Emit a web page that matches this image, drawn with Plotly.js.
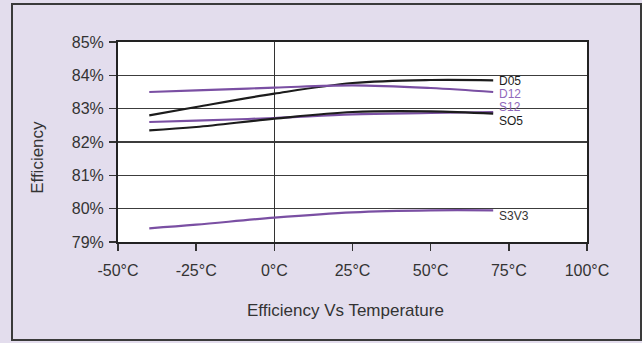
<!DOCTYPE html>
<html>
<head>
<meta charset="utf-8">
<script src="https://cdn.plot.ly/plotly-3.0.1.min.js"></script>
<style>
  html, body { margin: 0; padding: 0; background: #e3dded; }
  #wrap { position: relative; width: 642px; height: 343px; }
  #chart { position: absolute; left: 0; top: 0; width: 642px; height: 343px; }
  #frame { position: absolute; left: 11px; top: 3px; width: 627px; height: 334px;
           border: 2px solid #3a3a3a; pointer-events: none; }
</style>
</head>
<body>
<div id="wrap">
  <div id="chart"></div>
  <div id="frame"></div>
</div>
<script>
// Ambient temperature (°C) at which efficiency was measured
const temperatures = [-40, -25, 0, 25, 50, 70];

// Efficiency (%) per converter model
const effD05  = [82.80, 83.05, 83.45, 83.77, 83.86, 83.85];
const effD12  = [83.50, 83.55, 83.63, 83.70, 83.62, 83.50];
const effS12  = [82.60, 82.64, 82.72, 82.83, 82.87, 82.90];
const effS05  = [82.35, 82.45, 82.70, 82.90, 82.92, 82.85];
const effS3V3 = [79.41, 79.52, 79.73, 79.89, 79.95, 79.95];

const seriesNames = ['D05', 'D12', 'S12', 'SO5', 'S3V3'];

// Axis ticks
const xTickVals = [-50, -25, 0, 25, 50, 75, 100];
const xTickText = ['-50°C', '-25°C', '0°C', '25°C', '50°C', '75°C', '100°C'];
const yTickVals = [79, 80, 81, 82, 83, 84, 85];
const yTickText = ['79%', '80%', '81%', '82%', '83%', '84%', '85%'];

const BLACK = '#1c1c1c';
const PURPLE = '#7a4fa3';
const PURPLE_TEXT = '#9069bb';

const seriesData = [effD05, effD12, effS12, effS05, effS3V3];
const lineColors = [BLACK, PURPLE, PURPLE, BLACK, PURPLE];
const labelColors = [BLACK, PURPLE_TEXT, PURPLE_TEXT, BLACK, '#333333'];
// vertical nudge (px) of each end label relative to its line's last point
const labelShift = [-1, -2, 5, -7, -6];

const traces = seriesData.map((ys, i) => ({
  x: temperatures,
  y: ys,
  type: 'scatter',
  mode: 'lines',
  name: seriesNames[i],
  line: { color: lineColors[i], width: 2.2, shape: 'spline', smoothing: 1 },
  hoverinfo: 'skip'
}));

const FONT = 'Arial, "Liberation Sans", sans-serif';

const endLabels = seriesData.map((ys, i) => ({
  x: temperatures[temperatures.length - 1],
  y: ys[ys.length - 1],
  xref: 'x', yref: 'y',
  text: seriesNames[i],
  showarrow: false,
  xanchor: 'left',
  xshift: 5,
  yshift: labelShift[i],
  borderpad: 0,
  font: { family: FONT, size: 12, color: labelColors[i] }
}));

const layout = {
  width: 642,
  height: 343,
  margin: { l: 118, r: 55, t: 42, b: 101 },
  paper_bgcolor: '#e3dded',
  plot_bgcolor: '#ffffff',
  showlegend: false,
  font: { family: FONT, size: 16, color: '#333333' },
  xaxis: {
    range: [-50, 100],
    tickvals: xTickVals,
    ticktext: xTickText,
    ticks: 'outside',
    ticklen: 7,
    tickwidth: 1.5,
    tickcolor: '#333333',
    showgrid: false,
    zeroline: true,
    zerolinecolor: '#333333',
    zerolinewidth: 1,
    showline: true,
    linecolor: '#222222',
    linewidth: 2,
    mirror: true,
    ticklabelstandoff: 6,
    tickfont: { family: FONT, size: 16, color: '#333333' }
  },
  yaxis: {
    range: [79, 85],
    tickvals: yTickVals,
    ticktext: yTickText,
    ticks: 'outside',
    ticklen: 7,
    tickwidth: 1.5,
    tickcolor: '#333333',
    showgrid: true,
    gridcolor: '#3c3c3c',
    gridwidth: 1.2,
    zeroline: false,
    showline: true,
    linecolor: '#222222',
    linewidth: 2,
    mirror: true,
    ticklabelstandoff: 2,
    tickfont: { family: FONT, size: 16, color: '#333333' }
  },
  annotations: endLabels.concat([
    {
      x: 0.486, y: -0.34, xref: 'paper', yref: 'paper',
      text: 'Efficiency Vs Temperature', showarrow: false,
      xanchor: 'center', yanchor: 'middle',
      font: { family: FONT, size: 17, color: '#333333' }
    },
    {
      x: -0.173, y: 0.425, xref: 'paper', yref: 'paper',
      text: 'Efficiency', showarrow: false, textangle: -90,
      xanchor: 'center', yanchor: 'middle',
      font: { family: FONT, size: 17, color: '#333333' }
    }
  ])
};

Plotly.newPlot('chart', traces, layout, { staticPlot: true, displayModeBar: false });
</script>
</body>
</html>
